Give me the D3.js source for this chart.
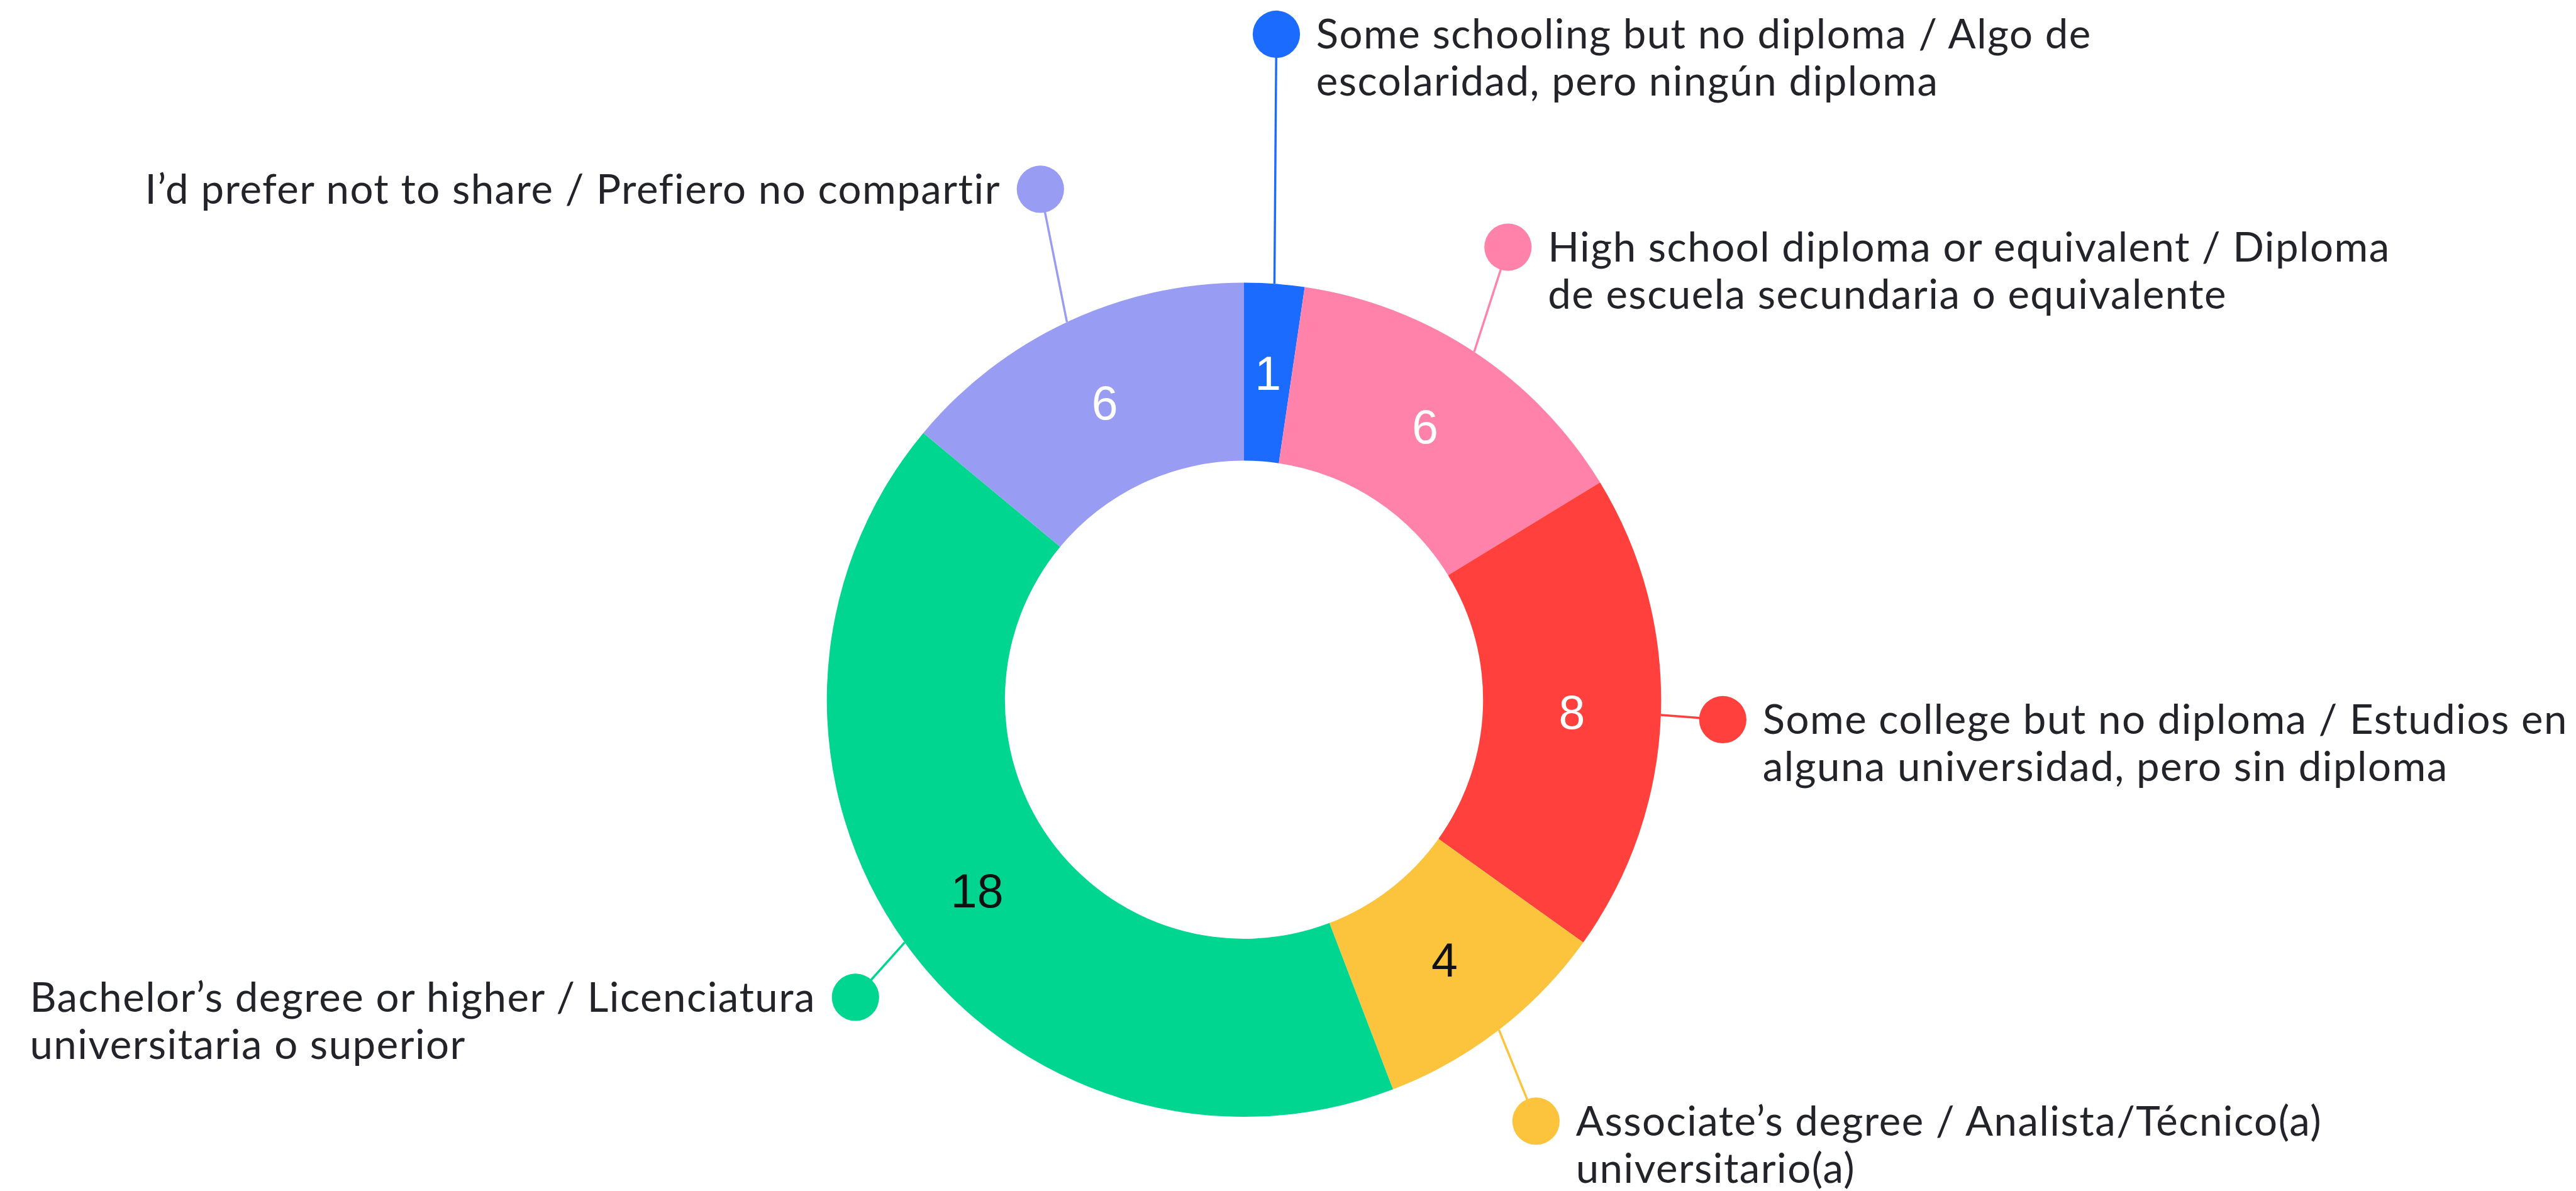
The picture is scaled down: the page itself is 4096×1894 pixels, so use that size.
<!DOCTYPE html>
<html>
<head>
<meta charset="utf-8">
<script src="https://cdn.jsdelivr.net/npm/d3@7/dist/d3.min.js"></script>
<style>
  html, body { margin: 0; padding: 0; background: #ffffff; }
  svg { display: block; }
</style>
</head>
<body>
<div id="chart"></div>
<script>
// ---------------- DATA ----------------
const categories = [
  ["Some schooling but no diploma / Algo de", "escolaridad, pero ningún diploma"],
  ["High school diploma or equivalent / Diploma", "de escuela secundaria o equivalente"],
  ["Some college but no diploma / Estudios en", "alguna universidad, pero sin diploma"],
  ["Associate’s degree / Analista/Técnico(a)", "universitario(a)"],
  ["Bachelor’s degree or higher / Licenciatura", "universitaria o superior"],
  ["I’d prefer not to share / Prefiero no compartir"]
];
const values = [1, 6, 8, 4, 18, 6];
const colors = ["#1b6bff", "#ff82ab", "#ff403c", "#fcc43c", "#00d68f", "#989cf3"];
const valueTextColors = ["#ffffff", "#ffffff", "#ffffff", "#111111", "#111111", "#ffffff"];

// label annotation layout (reference pixel space)
const labelDots = [[2050, 55], [2422, 397], [2767, 1156], [2467, 1801], [1374, 1602], [1671, 304]];
const labelSides = ["right", "right", "right", "right", "left", "left"];

// ---------------- LAYOUT ----------------
const W = 4096, H = 1894, S = 0.99;
const cx = 1998, cy = 1124, rOuter = 670, rInner = 384;
const dotR = 38, textGap = 64, lineH = 76, labelFont = 66, valueFont = 76;

const svg = d3.select("#chart").append("svg").attr("width", W).attr("height", H);
svg.append("rect").attr("width", W).attr("height", H).attr("fill", "#ffffff");
const root = svg.append("g").attr("transform", `scale(${S})`);

const pie = d3.pie().sort(null).value(d => d.v);
const data = values.map((v, i) => ({ v, i }));
const arcs = pie(data);
const arc = d3.arc().innerRadius(rInner).outerRadius(rOuter);
const labelArc = d3.arc().innerRadius((rInner + rOuter) / 2).outerRadius((rInner + rOuter) / 2);
const edgeArc = d3.arc().innerRadius(rOuter).outerRadius(rOuter);

const g = root.append("g").attr("transform", `translate(${cx},${cy})`);

// leader lines (behind slices)
const leaders = root.append("g");
arcs.forEach((a, k) => {
  const [ex, ey] = edgeArc.centroid(a);
  const [dx, dy] = labelDots[k];
  leaders.append("line")
    .attr("x1", cx + ex).attr("y1", cy + ey)
    .attr("x2", dx).attr("y2", dy)
    .attr("stroke", colors[k]).attr("stroke-width", 3.5);
});

g.selectAll("path.slice").data(arcs).enter().append("path")
  .attr("class", "slice")
  .attr("d", arc)
  .attr("fill", (d, k) => colors[k]);

g.selectAll("text.val").data(arcs).enter().append("text")
  .attr("class", "val")
  .attr("x", d => labelArc.centroid(d)[0])
  .attr("y", d => labelArc.centroid(d)[1])
  .attr("dy", "0.36em")
  .attr("text-anchor", "middle")
  .attr("font-family", "'Liberation Sans', Arial, sans-serif")
  .attr("font-size", valueFont)
  .attr("fill", (d, k) => valueTextColors[k])
  .text(d => d.data.v);

// dots and category labels
const lab = root.append("g");
categories.forEach((lines, k) => {
  const [dx, dy] = labelDots[k];
  lab.append("circle").attr("cx", dx).attr("cy", dy).attr("r", dotR).attr("fill", colors[k]);
  const t = lab.append("text")
    .attr("font-family", "Lato, 'Noto Sans', sans-serif")
    .attr("font-size", labelFont)
    .attr("letter-spacing", 1.5)
    .attr("fill", "#23232a");
  lines.forEach((ln, j) => {
    t.append("tspan").attr("x", 0).attr("y", j * lineH).text(ln);
  });
  let tx;
  if (labelSides[k] === "right") {
    tx = dx + textGap;
  } else {
    const w = t.node().getBBox().width;
    tx = dx - textGap - w;
  }
  t.attr("transform", `translate(${tx},${dy + 23})`);
});
</script>
</body>
</html>
